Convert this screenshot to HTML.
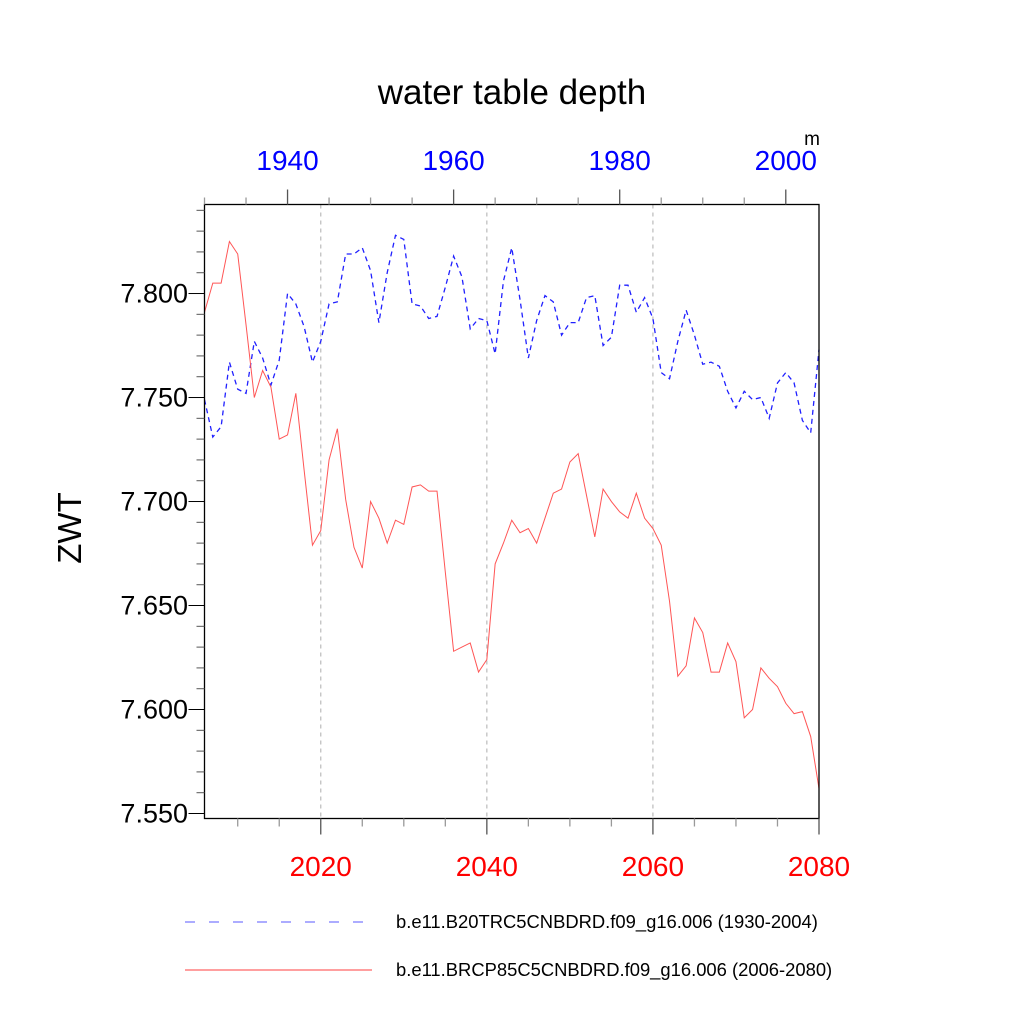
<!DOCTYPE html>
<html><head><meta charset="utf-8"><style>
html,body{margin:0;padding:0;background:#fff;}
svg{display:block;font-family:"Liberation Sans",sans-serif;}
</style></head><body>
<svg id="chart" width="1024" height="1024" viewBox="0 0 1024 1024" xmlns="http://www.w3.org/2000/svg">
<rect width="1024" height="1024" fill="#fff"/>
<text x="512" y="104" font-size="35" text-anchor="middle" fill="#000">water table depth</text>
<text x="812" y="145" font-size="19" text-anchor="middle" fill="#000">m</text>
<text transform="translate(81,528) rotate(-90)" font-size="33" text-anchor="middle" fill="#000">ZWT</text>
<g id="grid"></g>
<g id="series"></g>
<g id="axes"></g>
<g>
<line x1="185" y1="922" x2="372" y2="922" stroke="#7b7bff" stroke-width="1.2" stroke-dasharray="10,14"/>
<text x="396" y="928" font-size="18.4" fill="#000">b.e11.B20TRC5CNBDRD.f09_g16.006 (1930-2004)</text>
<line x1="185" y1="970" x2="372" y2="970" stroke="#ff6666" stroke-width="1.2"/>
<text x="396" y="976" font-size="18.4" fill="#000">b.e11.BRCP85C5CNBDRD.f09_g16.006 (2006-2080)</text>
</g>
</svg>
<script>
const bottomYears = [2006, 2080];
const topYears = [1930, 2004];
const bottomTickLabels = [2020, 2040, 2060, 2080];
const topTickLabels = [1940, 1960, 1980, 2000];
const yTickLabels = ["7.550","7.600","7.650","7.700","7.750","7.800"];
const yTickValues = [7.55, 7.60, 7.65, 7.70, 7.75, 7.80];
const historicalValues = [7.749,7.731,7.736,7.767,7.754,7.752,7.777,7.769,7.756,7.768,7.800,7.795,7.784,7.767,7.777,7.795,7.796,7.819,7.819,7.822,7.811,7.786,7.810,7.828,7.826,7.795,7.794,7.788,7.789,7.803,7.818,7.808,7.783,7.788,7.787,7.771,7.806,7.822,7.797,7.769,7.787,7.799,7.796,7.780,7.786,7.786,7.798,7.799,7.775,7.779,7.804,7.804,7.791,7.798,7.788,7.762,7.759,7.777,7.792,7.780,7.766,7.767,7.765,7.753,7.745,7.753,7.749,7.750,7.740,7.757,7.762,7.757,7.739,7.733,7.773];
const rcp85Values = [7.791,7.805,7.805,7.825,7.819,7.785,7.750,7.763,7.755,7.730,7.732,7.752,7.715,7.679,7.686,7.720,7.735,7.701,7.678,7.668,7.700,7.692,7.680,7.691,7.689,7.707,7.708,7.705,7.705,7.666,7.628,7.630,7.632,7.618,7.624,7.670,7.680,7.691,7.685,7.687,7.680,7.692,7.704,7.706,7.719,7.723,7.703,7.683,7.706,7.700,7.695,7.692,7.704,7.692,7.687,7.679,7.652,7.616,7.621,7.644,7.637,7.618,7.618,7.632,7.623,7.596,7.600,7.620,7.615,7.611,7.603,7.598,7.599,7.587,7.562];

const NS = "http://www.w3.org/2000/svg";
const L = 204.5, R = 819, T = 204.5, B = 818.5;
const yMin = 7.5476, yMax = 7.8428;
function xB(y){ return L + (y - bottomYears[0]) / (bottomYears[1]-bottomYears[0]) * (R-L); }
function xT(y){ return L + (y - topYears[0]) / (topYears[1]-topYears[0]) * (R-L); }
function yS(v){ return B - (v - yMin) / (yMax - yMin) * (B-T); }
function mk(tag, attrs, parent){ const e=document.createElementNS(NS,tag); for(const k in attrs) e.setAttribute(k, attrs[k]); parent.appendChild(e); return e; }

const grid = document.getElementById('grid');
const axes = document.getElementById('axes');
const series = document.getElementById('series');

bottomTickLabels.forEach(function(t){
  if (t >= bottomYears[1]) return;
  const g = mk('line', {x1:xB(t), x2:xB(t), y1:T, y2:B, stroke:'#bbb', 'stroke-width':1.2, 'stroke-dasharray':'4,4'}, grid);
  
  
});

function path(vals, start, scale){
  return vals.map(function(v,i){ return (i?'L':'M') + scale(start+i).toFixed(2) + ',' + yS(v).toFixed(2); }).join(' ');
}
const hp = mk('path', {d:path(historicalValues, topYears[0], xT), fill:'none', stroke:'#2020ff', 'stroke-width':1.3, 'stroke-dasharray':'5,4'}, series);


const rp = mk('path', {d:path(rcp85Values, bottomYears[0], xB), fill:'none', stroke:'#ff5555', 'stroke-width':1}, series);



const fr = mk('rect', {x:L, y:T, width:R-L, height:B-T, fill:'none', stroke:'#000', 'stroke-width':1.3}, axes);



for (let k = 755; k <= 784; k++) {
  const v = k/100;
  const major = (k % 5 === 0);
  const t = mk('line', {x1:L, x2:L-(major?16:8), y1:yS(v), y2:yS(v), stroke:major?'#000':'#555', 'stroke-width':1}, axes);
  
  
}
yTickValues.forEach(function(v,i){
  const tx = mk('text', {x:188, y:yS(v)+9, 'font-size':27, 'text-anchor':'end', fill:'#000'}, axes);
  tx.textContent = yTickLabels[i];
  
  
});

for (let y = 2010; y <= 2080; y += 5) {
  const major = (y % 20 === 0);
  const t = mk('line', {x1:xB(y), x2:xB(y), y1:B, y2:B+(major?16:8), stroke:major?'#555':'#999', 'stroke-width':1.3}, axes);
  
  
}
bottomTickLabels.forEach(function(y){
  const tx = mk('text', {x:xB(y), y:876, 'font-size':28, 'text-anchor':'middle', fill:'#ff0000'}, axes);
  tx.textContent = y;
  
  
});

for (let y = 1930; y <= 2004; y += 5) {
  const major = (y % 20 === 0);
  const t = mk('line', {x1:xT(y), x2:xT(y), y1:T, y2:T-(major?15:7), stroke:major?'#555':'#999', 'stroke-width':1.3}, axes);
  
  
}
topTickLabels.forEach(function(y){
  const tx = mk('text', {x:xT(y), y:170, 'font-size':28, 'text-anchor':'middle', fill:'#0000ff'}, axes);
  tx.textContent = y;
  
  
});
</script>
</body></html>
